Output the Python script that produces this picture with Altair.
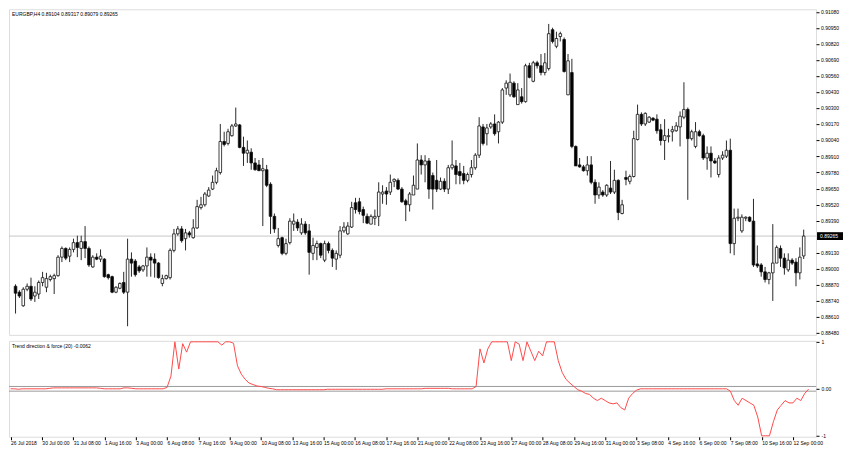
import altair as alt
import pandas as pd

# ---------------- data (EURGBP H4) ----------------
opens = [
0.88858,0.88810,0.88700,0.88834,0.88858,0.88779,0.88795,0.88889,0.88850,0.88913,
0.88920,0.88944,0.89094,0.89165,0.89102,0.89157,0.89212,0.89165,0.89220,0.89165,
0.89015,0.89094,0.89078,0.89078,0.88952,0.88936,0.88810,0.88842,0.88889,0.88810,
0.89078,0.89062,0.89015,0.88991,0.89023,0.89094,0.89078,0.89046,0.88881,0.88920,
0.88928,0.89149,0.89283,0.89323,0.89244,0.89291,0.89252,0.89331,0.89496,0.89519,
0.89590,0.89646,0.89701,0.89780,0.90032,0.90016,0.90079,0.90158,0.90166,0.89984,
0.89937,0.89945,0.89858,0.89842,0.89795,0.89803,0.89685,0.89425,0.89189,0.89252,
0.89125,0.89212,0.89362,0.89378,0.89291,0.89362,0.89307,0.89125,0.89173,0.89204,
0.89070,0.89204,0.89149,0.89078,0.89110,0.89307,0.89283,0.89338,0.89535,0.89543,
0.89480,0.89425,0.89362,0.89410,0.89425,0.89606,0.89630,0.89622,0.89709,0.89717,
0.89646,0.89551,0.89519,0.89598,0.89646,0.89882,0.89842,0.89874,0.89756,0.89717,
0.89646,0.89709,0.89646,0.89819,0.89834,0.89788,0.89772,0.89717,0.89764,0.89819,
0.89921,0.90150,0.90095,0.90150,0.90174,0.90111,0.90189,0.90465,0.90410,0.90505,
0.90331,0.90394,0.90355,0.90646,0.90520,0.90670,0.90646,0.90591,0.90623,0.90938,
0.90804,0.90883,0.90859,0.90410,0.90591,0.89992,0.89842,0.89826,0.89795,0.89842,
0.89701,0.89598,0.89622,0.89598,0.89654,0.89622,0.89717,0.89448,0.89740,0.89709,
0.89748,0.90048,0.90252,0.90174,0.90189,0.90221,0.90213,0.90127,0.90040,0.90071,
0.90111,0.90119,0.90150,0.90229,0.90292,0.90055,0.89992,0.90111,0.90079,0.89898,
0.89937,0.89874,0.89764,0.89898,0.89913,0.89961,0.89204,0.89410,0.89307,0.89410,
0.89418,0.89386,0.89039,0.89031,0.88975,0.88913,0.88967,0.89046,0.89165,0.89086,
0.88991,0.89070,0.89054,0.88967,0.89104]
highs = [
0.88874,0.88826,0.88850,0.88881,0.88928,0.88858,0.88905,0.88975,0.88967,0.88952,
0.88960,0.89110,0.89181,0.89173,0.89173,0.89244,0.89268,0.89268,0.89346,0.89181,
0.89110,0.89125,0.89157,0.89086,0.88960,0.88944,0.88858,0.88889,0.88975,0.89244,
0.89133,0.89078,0.89031,0.89031,0.89173,0.89125,0.89125,0.89054,0.88952,0.88952,
0.89165,0.89323,0.89346,0.89346,0.89323,0.89307,0.89402,0.89559,0.89583,0.89622,
0.89662,0.89756,0.89819,0.90174,0.90111,0.90135,0.90174,0.90307,0.90174,0.90071,
0.90040,0.89977,0.89898,0.89882,0.89898,0.89842,0.89701,0.89448,0.89331,0.89260,
0.89244,0.89410,0.89448,0.89402,0.89410,0.89386,0.89362,0.89252,0.89228,0.89212,
0.89228,0.89220,0.89165,0.89149,0.89346,0.89378,0.89378,0.89543,0.89575,0.89575,
0.89504,0.89448,0.89441,0.89480,0.89701,0.89677,0.89662,0.89764,0.89733,0.89733,
0.89662,0.89567,0.89622,0.89756,0.90016,0.89921,0.89921,0.89898,0.89780,0.89882,
0.89740,0.89733,0.89842,0.90040,0.89882,0.89858,0.89834,0.89780,0.89882,0.89937,
0.90229,0.90174,0.90174,0.90189,0.90252,0.90197,0.90465,0.90528,0.90583,0.90520,
0.90505,0.90465,0.90662,0.90670,0.90686,0.90686,0.90741,0.90749,0.90985,0.90954,
0.90922,0.90922,0.90875,0.90741,0.90702,0.90000,0.89898,0.89842,0.89913,0.89913,
0.89725,0.89701,0.89638,0.89685,0.89874,0.89803,0.89725,0.89559,0.89795,0.89764,
0.90119,0.90331,0.90268,0.90268,0.90237,0.90229,0.90252,0.90174,0.90213,0.90135,
0.90158,0.90189,0.90276,0.90512,0.90307,0.90127,0.90189,0.90127,0.90095,0.89992,
0.89992,0.89898,0.89921,0.89953,0.90040,0.90055,0.89488,0.89488,0.89441,0.89425,
0.89425,0.89567,0.89189,0.89046,0.89015,0.88975,0.89362,0.89189,0.89189,0.89125,
0.89125,0.89086,0.89086,0.89173,0.89317]
lows = [
0.88637,0.88763,0.88692,0.88818,0.88739,0.88731,0.88755,0.88858,0.88810,0.88897,
0.88795,0.88936,0.89054,0.89070,0.89054,0.89133,0.89094,0.89070,0.89086,0.89015,
0.89007,0.89070,0.89054,0.88928,0.88913,0.88802,0.88802,0.88834,0.88795,0.88534,
0.88936,0.88936,0.88967,0.88975,0.88936,0.88936,0.88928,0.88920,0.88858,0.88913,
0.88913,0.89133,0.89268,0.89212,0.89149,0.89252,0.89244,0.89323,0.89480,0.89504,
0.89583,0.89638,0.89685,0.89764,0.89992,0.90000,0.90071,0.90150,0.89977,0.89834,
0.89858,0.89803,0.89795,0.89795,0.89346,0.89662,0.89283,0.89291,0.89173,0.89110,
0.89110,0.89197,0.89307,0.89307,0.89275,0.89275,0.88952,0.89070,0.89070,0.89086,
0.89054,0.89125,0.89015,0.88991,0.89086,0.89291,0.89275,0.89331,0.89448,0.89441,
0.89370,0.89362,0.89362,0.89354,0.89346,0.89527,0.89519,0.89598,0.89662,0.89638,
0.89535,0.89386,0.89464,0.89598,0.89646,0.89764,0.89701,0.89567,0.89480,0.89622,
0.89638,0.89622,0.89606,0.89803,0.89685,0.89685,0.89685,0.89701,0.89740,0.89803,
0.89898,0.90000,0.90000,0.90135,0.90079,0.90016,0.90174,0.90410,0.90394,0.90386,
0.90331,0.90339,0.90347,0.90544,0.90512,0.90623,0.90568,0.90568,0.90607,0.90827,
0.90788,0.90843,0.90591,0.90410,0.89977,0.89834,0.89819,0.89788,0.89756,0.89685,
0.89527,0.89567,0.89583,0.89583,0.89606,0.89606,0.89394,0.89441,0.89677,0.89685,
0.89740,0.90040,0.90158,0.90158,0.90182,0.90197,0.90095,0.90000,0.89882,0.90024,
0.90032,0.90111,0.89992,0.90213,0.89559,0.90040,0.89977,0.90071,0.89882,0.89803,
0.89740,0.89850,0.89740,0.89882,0.89898,0.89125,0.89110,0.89386,0.89291,0.89386,
0.89378,0.89015,0.89007,0.88936,0.88889,0.88874,0.88739,0.89046,0.89015,0.88952,
0.88975,0.89031,0.88858,0.88913,0.89079]
closes = [
0.88802,0.88779,0.88834,0.88858,0.88755,0.88810,0.88889,0.88928,0.88920,0.88936,
0.88944,0.89094,0.89165,0.89086,0.89157,0.89212,0.89173,0.89220,0.89165,0.89031,
0.89094,0.89078,0.89102,0.88936,0.88928,0.88810,0.88850,0.88881,0.88810,0.89078,
0.89046,0.88952,0.88983,0.89023,0.89094,0.89070,0.89046,0.88928,0.88920,0.88944,
0.89149,0.89283,0.89323,0.89228,0.89291,0.89275,0.89331,0.89504,0.89519,0.89606,
0.89638,0.89701,0.89795,0.90032,0.90008,0.90111,0.90158,0.90174,0.89984,0.89937,
0.89961,0.89858,0.89803,0.89795,0.89811,0.89677,0.89425,0.89323,0.89244,0.89125,
0.89204,0.89386,0.89386,0.89331,0.89362,0.89291,0.89133,0.89189,0.89204,0.89110,
0.89204,0.89149,0.89086,0.89125,0.89307,0.89338,0.89346,0.89496,0.89480,0.89464,
0.89433,0.89370,0.89425,0.89425,0.89622,0.89622,0.89606,0.89701,0.89725,0.89646,
0.89543,0.89519,0.89606,0.89677,0.89882,0.89842,0.89874,0.89646,0.89646,0.89646,
0.89709,0.89646,0.89819,0.89842,0.89764,0.89756,0.89717,0.89764,0.89819,0.89921,
0.90158,0.90016,0.90142,0.90174,0.90095,0.90189,0.90450,0.90505,0.90512,0.90394,
0.90450,0.90355,0.90646,0.90552,0.90670,0.90646,0.90591,0.90670,0.90906,0.90843,
0.90867,0.90906,0.90599,0.90686,0.89992,0.89834,0.89826,0.89795,0.89842,0.89701,
0.89598,0.89662,0.89598,0.89677,0.89622,0.89717,0.89456,0.89519,0.89725,0.89748,
0.90055,0.90252,0.90174,0.90260,0.90229,0.90205,0.90119,0.90040,0.90079,0.90079,
0.90127,0.90158,0.90237,0.90292,0.90055,0.90111,0.90111,0.90079,0.89898,0.89937,
0.89874,0.89858,0.89898,0.89921,0.89961,0.89204,0.89410,0.89418,0.89418,0.89418,
0.89386,0.89031,0.89023,0.88975,0.88913,0.88967,0.89046,0.89173,0.89086,0.89007,
0.89070,0.89046,0.88967,0.89094,0.89265]

# Trend direction & force (20)
tdf = [
0.0,0.0,-0.01,0.0,0.0,0.0,0.0,0.0,0.0,0.0,
0.01,0.02,0.02,0.02,0.02,0.02,0.02,0.02,0.02,0.02,
0.02,0.02,0.02,0.01,0.0,0.0,0.0,0.0,0.0,0.02,
0.02,0.01,0.0,0.0,0.0,0.0,0.0,0.0,0.0,0.0,
0.03,0.27,1.0,0.42,0.96,0.78,1.0,1.0,1.0,1.0,
1.0,1.0,1.0,1.0,0.93,1.0,1.0,0.97,0.49,0.31,
0.2,0.12,0.09,0.06,0.05,0.03,0.01,0.0,-0.02,-0.02,
-0.02,-0.02,-0.02,-0.02,-0.02,-0.02,-0.02,-0.02,-0.02,-0.02,
-0.02,-0.01,-0.01,-0.01,-0.01,-0.01,-0.01,-0.01,-0.01,-0.01,
-0.01,-0.01,-0.01,-0.01,-0.01,-0.01,0.0,0.0,0.0,0.0,
0.0,0.0,0.0,0.0,0.0,0.0,0.01,0.01,0.01,0.01,
0.01,0.01,0.01,0.0,0.0,0.0,0.0,0.0,0.0,0.05,
0.85,0.55,0.85,1.0,1.0,1.0,1.0,1.0,0.6,1.0,
0.95,0.6,1.0,0.8,0.6,0.8,0.7,1.0,1.0,1.0,
0.6,0.35,0.2,0.12,0.05,-0.02,-0.05,-0.1,-0.12,-0.2,
-0.25,-0.2,-0.25,-0.3,-0.32,-0.3,-0.4,-0.45,-0.2,-0.1,
-0.03,0.0,0.0,0.0,0.0,0.0,0.0,0.0,0.0,0.0,
0.0,0.0,0.0,0.0,0.0,0.0,0.0,0.0,0.0,0.0,
0.0,0.0,0.0,0.0,-0.05,-0.25,-0.35,-0.2,-0.25,-0.3,
-0.35,-0.6,-1.0,-1.0,-1.0,-0.7,-0.45,-0.35,-0.25,-0.3,
-0.3,-0.2,-0.25,-0.1,-0.0062]

date_labels = ["26 Jul 2018", "30 Jul 00:00", "31 Jul 08:00", "1 Aug 16:00", "3 Aug 00:00",
               "6 Aug 08:00", "7 Aug 16:00", "9 Aug 00:00", "10 Aug 08:00", "13 Aug 16:00",
               "15 Aug 00:00", "16 Aug 08:00", "17 Aug 16:00", "21 Aug 00:00", "22 Aug 08:00",
               "23 Aug 16:00", "27 Aug 00:00", "28 Aug 08:00", "29 Aug 16:00", "31 Aug 00:00",
               "3 Sep 08:00", "4 Sep 16:00", "6 Sep 00:00", "7 Sep 08:00", "10 Sep 16:00",
               "12 Sep 00:00"]
date_every = 8
price_ticks = [0.91080, 0.90950, 0.90820, 0.90690, 0.90560, 0.90430, 0.90300, 0.90170,
               0.90040, 0.89910, 0.89780, 0.89650, 0.89520, 0.89390, 0.89130, 0.89000,
               0.88870, 0.88740, 0.88610, 0.88480]
levels = [0.05, -0.05]
symbol = "EURGBP,H4"
ind_name = "Trend direction & force (20)"

# ---------------- layout ----------------
W = 808
H_MAIN = 326
H_IND = 96
FONT = "Liberation Sans"
FS = 5

n = len(closes)
df = pd.DataFrame({"i": list(range(n)), "open": opens, "high": highs,
                   "low": lows, "close": closes, "tdf": tdf})
df["dir"] = ["up" if c >= o else "down" for o, c in zip(opens, closes)]

xscale = alt.Scale(domain=[-0.4, 205.9], nice=False, zero=False)
pscale = alt.Scale(domain=[0.88464, 0.91104], nice=False, zero=False)

base = alt.Chart(df)

last = pd.DataFrame({"p": [closes[-1]], "t": [f"{closes[-1]:.5f}"]})
ticks_df = pd.DataFrame({"p": price_ticks, "t": [f"{v:.5f}" for v in price_ticks]})

price_axis = alt.Axis(orient="right", values=price_ticks, labels=False,
                      tickSize=3, domain=False, grid=False, tickColor="#000")

cur_line = alt.Chart(last).mark_rule(color="#c8c8c8", strokeWidth=1).encode(
    y=alt.Y("p:Q", scale=pscale, title=None, axis=price_axis))

wicks = base.mark_rule(color="#2a2a2a", strokeWidth=1).encode(
    x=alt.X("i:Q", scale=xscale, axis=None),
    y=alt.Y("low:Q", scale=pscale, title=None, axis=price_axis),
    y2="high:Q")

bodies = base.mark_bar(width=2.6, stroke="#111", strokeWidth=0.8).encode(
    x=alt.X("i:Q", scale=xscale, axis=None),
    y=alt.Y("open:Q", scale=pscale, title=None, axis=price_axis),
    y2="close:Q",
    color=alt.Color("dir:N", scale=alt.Scale(domain=["up", "down"], range=["#ffffff", "#000000"]),
                    legend=None))

price_labels = alt.Chart(ticks_df).mark_text(
    align="left", baseline="middle", fontSize=FS, font=FONT, color="#000").encode(
    x=alt.value(W + 5), y=alt.Y("p:Q", scale=pscale, title=None, axis=price_axis), text="t:N")

header = alt.Chart(pd.DataFrame({"t": [f"{symbol}  {opens[-1]:.5f} {highs[-1]:.5f} {lows[-1]:.5f} {closes[-1]:.5f}"]})).mark_text(
    align="left", baseline="top", fontSize=FS, font=FONT, color="#000").encode(
    x=alt.value(3), y=alt.value(3), text="t:N")

box = alt.Chart(last).mark_point(shape="M-1,-0.3L1,-0.3L1,0.3L-1,0.3Z", size=676, filled=True,
                                 color="#000", opacity=1).encode(
    x=alt.value(W + 14), y=alt.Y("p:Q", scale=pscale, title=None, axis=price_axis))
box_text = alt.Chart(last).mark_text(align="left", baseline="middle", fontSize=FS, font=FONT,
                                     color="#fff").encode(
    x=alt.value(W + 4), y=alt.Y("p:Q", scale=pscale, title=None, axis=price_axis), text="t:N")

main = alt.layer(cur_line, wicks, bodies, price_labels, header, box, box_text).properties(
    width=W, height=H_MAIN)

# ---------------- indicator ----------------
iscale = alt.Scale(domain=[-1.02, 1.02], nice=False, zero=False)
label_js = "[" + ",".join("'" + s + "'" for s in date_labels) + "]"

lvl = alt.Chart(pd.DataFrame({"v": levels})).mark_rule(color="#9a9a9a", strokeWidth=1).encode(
    y=alt.Y("v:Q", scale=iscale, title=None,
            axis=alt.Axis(orient="right", values=[1, 0, -1],
                          labelExpr="datum.value == 0 ? '0.00' : (datum.value > 0 ? '1' : '-1')",
                          labelFontSize=FS, tickSize=3, labelPadding=2, domain=False, grid=False,
                          labelColor="#000", tickColor="#000", labelFont=FONT,
                          labelOverlap=False, labelFlush=False)))

ind_line = base.mark_line(color="#ff4a4a", strokeWidth=1).encode(
    x=alt.X("i:Q", scale=xscale, title=None,
            axis=alt.Axis(values=list(range(0, len(date_labels) * date_every, date_every)),
                          labelExpr=label_js + "[round(datum.value / %d)]" % date_every,
                          labelAlign="left", labelFontSize=FS, tickSize=3, labelPadding=1,
                          domain=False, grid=False, labelOverlap=False, labelColor="#000",
                          tickColor="#000", labelFont=FONT, labelFlush=False)),
    y=alt.Y("tdf:Q", scale=iscale))

ind_title = alt.Chart(pd.DataFrame({"t": [f"{ind_name} {tdf[-1]:.4f}"]})).mark_text(
    align="left", baseline="top", fontSize=FS, font=FONT, color="#000").encode(
    x=alt.value(3), y=alt.value(3), text="t:N")

ind = alt.layer(lvl, ind_line, ind_title).properties(width=W, height=H_IND)

chart = alt.vconcat(main, ind, spacing=2).properties(
    padding={"left": 0, "top": 0, "right": 0, "bottom": 0}
).configure_view(stroke="#333", strokeWidth=1).configure(background="white")

chart.save("out.html", embed_options={"renderer": "svg", "actions": False})
